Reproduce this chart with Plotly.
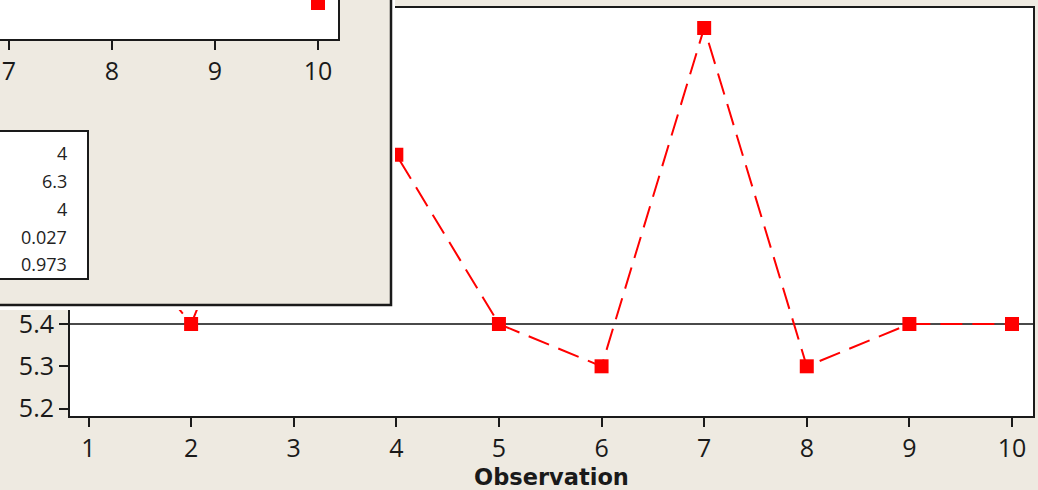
import plotly.graph_objects as go
import numpy as np

W, H = 1038, 490

# ---------------- data ----------------
observations = [1, 2, 3, 4, 5, 6, 7, 8, 9, 10]
values = [5.7, 5.4, 6.0, 5.8, 5.4, 5.3, 6.1, 5.3, 5.4, 5.4]
x_ticks = [1, 2, 3, 4, 5, 6, 7, 8, 9, 10]
y_ticks = [5.2, 5.3, 5.4, 5.5, 5.6, 5.7, 5.8, 5.9, 6.0, 6.1]
y_tick_labels = ["5.2", "5.3", "5.4", "5.5", "5.6", "5.7", "5.8", "5.9", "6.0", "6.1"]

# overlapping (second) run-chart window, only partly visible
overlay_obs = [10]
overlay_vals = [5.3]
overlay_ticks = [7, 8, 9, 10]
stats_values = ["4", "6.3", "4", "0.027", "0.973"]

median = float(np.median(values))

# ---------------- style ----------------
BEIGE = "#EEEAE1"
RED = "#FF0000"
INK = "#1a1a1a"
TICKFONT = dict(family="Open Sans", size=25, color=INK)

# main axis geometry (pixels)
L, R, T, B = 70, 1033, 7.5, 416
x_range = [1 - 18.5 / 102.6, 10 + 21 / 102.6]
y_scale = 423.0  # px per unit
y_range = [5.4 - (B - 324) / y_scale, 5.4 + (324 - T) / y_scale]

# overlay inner plot geometry
OL_R, OL_B = 338, 39
x3_range = [7 - 9 / 103.0, 10 + 20 / 103.0]
v = overlay_vals[-1]
y3_range = [v - (OL_B - 3) / y_scale, v + 3 / y_scale]

fig = go.Figure()

# median reference line
fig.add_trace(go.Scatter(
    x=x_range, y=[median, median], mode="lines",
    line=dict(color="#4a4a4a", width=2), hoverinfo="skip",
    xaxis="x", yaxis="y", showlegend=False))

# run chart data
fig.add_trace(go.Scatter(
    x=observations, y=values, mode="lines+markers",
    line=dict(color=RED, width=2, dash="22px,10px"),
    marker=dict(symbol="square", size=14, color=RED),
    xaxis="x", yaxis="y", showlegend=False))

# overlapping window background (pixel-unit axes)
fig.add_trace(go.Scatter(
    x=[-20, 391, 391, -20, -20], y=[-20, -20, 305, 305, -20],
    mode="lines", fill="toself", fillcolor=BEIGE,
    line=dict(color=INK, width=2.5), hoverinfo="skip",
    xaxis="x2", yaxis="y2", showlegend=False))

# overlapping window inner plot area
fig.add_trace(go.Scatter(
    x=[x3_range[0], x3_range[1], x3_range[1], x3_range[0], x3_range[0]],
    y=[y3_range[0], y3_range[0], y3_range[1], y3_range[1], y3_range[0]],
    mode="lines", fill="toself", fillcolor="white",
    line=dict(color="white", width=0), hoverinfo="skip",
    xaxis="x3", yaxis="y3", showlegend=False))

fig.add_trace(go.Scatter(
    x=overlay_obs, y=overlay_vals, mode="markers",
    marker=dict(symbol="square", size=14, color=RED),
    xaxis="x3", yaxis="y3", showlegend=False))

# statistics table of the overlapping window
fig.add_shape(type="rect", xref="paper", yref="paper", layer="above",
              x0=-10 / W, x1=88 / W, y0=1 - 279 / H, y1=1 - 131 / H,
              fillcolor="white", line=dict(color=INK, width=2))
row_y = [153, 181, 209, 237, 264]
for val, yy in zip(stats_values, row_y):
    fig.add_annotation(x=68 / W, y=1 - yy / H, xref="paper", yref="paper",
                       text=val, showarrow=False, xanchor="right", yanchor="middle",
                       borderpad=0,
                       font=dict(family="Open Sans", size=18, color="#222222"))

axis_common = dict(showgrid=False, zeroline=False, showline=True, automargin=False,
                   linecolor=INK, linewidth=2, ticks="outside", ticklen=9,
                   tickwidth=2, tickcolor=INK, tickfont=TICKFONT)

fig.update_layout(
    width=W, height=H,
    margin=dict(l=0, r=0, t=0, b=0, pad=0),
    paper_bgcolor=BEIGE, plot_bgcolor="white",
    showlegend=False,
    xaxis=dict(domain=[L / W, R / W], range=x_range, tickvals=x_ticks,
               mirror=True, anchor="y",
               title=dict(text="Observation", standoff=5,
                          font=dict(family="DejaVu Sans", size=22.5, color=INK, weight="bold")),
               **axis_common),
    yaxis=dict(domain=[1 - B / H, 1 - T / H], range=y_range, tickvals=y_ticks,
               ticktext=y_tick_labels, mirror=True, anchor="x", **axis_common),
    xaxis2=dict(domain=[0, 395 / W], range=[0, 395], visible=False, anchor="y2",
                automargin=False),
    yaxis2=dict(domain=[1 - 310 / H, 1], range=[310, 0], visible=False, anchor="x2",
                automargin=False),
    xaxis3=dict(domain=[0, OL_R / W], range=x3_range, tickvals=overlay_ticks,
                anchor="y3", **axis_common),
    yaxis3=dict(domain=[1 - OL_B / H, 1], range=y3_range, anchor="x3", side="right",
                showgrid=False, zeroline=False, showline=True, linecolor=INK,
                linewidth=2, ticks="", showticklabels=False, automargin=False),
)

page_fix = (
    "var de=document.documentElement, b=document.body;"
    "de.style.margin='0'; de.style.padding='0'; de.style.overflow='hidden';"
    "de.style.height='490px'; de.style.background='#EEEAE1';"
    "b.style.margin='0'; b.style.padding='0'; b.style.overflow='hidden';"
    "b.style.height='490px';"
    "var g=document.querySelector('.plotly-graph-div');"
    "if(g){g.style.position='fixed'; g.style.left='0px'; g.style.top='0px';}"
)

fig.write_html(
    "out.html",
    config={"displayModeBar": False},
    post_script=page_fix,
)
